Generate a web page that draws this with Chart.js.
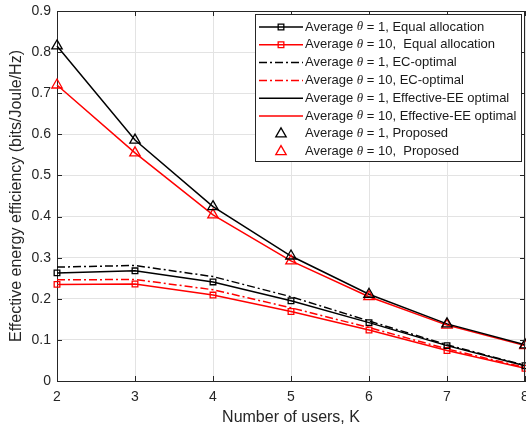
<!DOCTYPE html>
<html>
<head>
<meta charset="utf-8">
<script src="https://cdn.jsdelivr.net/npm/chart.js@4/dist/chart.umd.min.js"></script>
<style>
  html, body { margin: 0; padding: 0; background: #fff; }
  #wrap { width: 526px; height: 428px; }
</style>
</head>
<body>
<div id="wrap"><canvas id="eeChart" width="526" height="428"></canvas></div>
<script>
// Effective energy efficiency vs. number of users K
const kUsers = [2, 3, 4, 5, 6, 7, 8];
const equalT1 = [0.263, 0.268, 0.241, 0.195, 0.142, 0.086, 0.037];
const equalT10 = [0.235, 0.236, 0.209, 0.169, 0.124, 0.074, 0.031];
const ecT1 = [0.277, 0.281, 0.254, 0.205, 0.146, 0.088, 0.038];
const ecT10 = [0.246, 0.247, 0.222, 0.178, 0.130, 0.078, 0.033];
const eeT1 = [0.815, 0.586, 0.424, 0.304, 0.211, 0.139, 0.088];
const eeT10 = [0.720, 0.555, 0.404, 0.292, 0.205, 0.136, 0.086];
const propT1 = [0.815, 0.586, 0.424, 0.304, 0.211, 0.139, 0.088];
const propT10 = [0.720, 0.555, 0.404, 0.292, 0.205, 0.136, 0.086];

const yTicks = [0, 0.1, 0.2, 0.3, 0.4, 0.5, 0.6, 0.7, 0.8, 0.9];

const AXIS_COLOR = '#262626';
const GRID_COLOR = '#e3e3e3';
const FONT = "'Liberation Sans', Arial, Helvetica, sans-serif";
const DASH_DOT = [8, 3, 2, 3];

function pts(ys) {
    return ys.map((y, i) => ({ x: kUsers[i], y: y }));
}

function series(label, ys, color, opts) {
    return Object.assign({
        label: label,
        data: pts(ys),
        borderColor: color,
        backgroundColor: 'rgba(0,0,0,0)',
        pointBorderColor: color,
        pointBackgroundColor: 'rgba(0,0,0,0)',
        borderWidth: 1.5,
        pointBorderWidth: 1.3,
        pointRadius: 0,
        pointHoverRadius: 0,
        tension: 0,
        clip: false,
        fill: false
    }, opts);
}

const datasets = [
    series('Average θ = 1, Equal allocation', equalT1, '#000000', { pointStyle: 'rect', pointRadius: 4, order: 5 }),
    series('Average θ = 10,  Equal allocation', equalT10, '#ff0000', { pointStyle: 'rect', pointRadius: 4, order: 5 }),
    series('Average θ = 1, EC-optimal', ecT1, '#000000', { borderDash: DASH_DOT, order: 6 }),
    series('Average θ = 10, EC-optimal', ecT10, '#ff0000', { borderDash: DASH_DOT, order: 6 }),
    series('Average θ = 1, Effective-EE optimal', eeT1, '#000000', { order: 4 }),
    series('Average θ = 10, Effective-EE optimal', eeT10, '#ff0000', { order: 4 }),
    series('Average θ = 1, Proposed', propT1, '#000000', { showLine: false, pointStyle: 'triangle', pointRadius: 6, order: 1 }),
    series('Average θ = 10,  Proposed', propT10, '#ff0000', { showLine: false, pointStyle: 'triangle', pointRadius: 6, order: 1 })
];

// Box around the plot area plus inward tick marks
const frameBox = {
    id: 'frameBox',
    afterDatasetsDraw(chart) {
        const { ctx, chartArea: a, scales } = chart;
        ctx.save();
        ctx.strokeStyle = AXIS_COLOR;
        ctx.lineWidth = 1;
        ctx.beginPath();
        ctx.moveTo(a.left, a.top + 0.5);
        ctx.lineTo(a.right, a.top + 0.5);
        ctx.moveTo(a.right - 0.5, a.top);
        ctx.lineTo(a.right - 0.5, a.bottom);
        const len = 5;
        kUsers.forEach(k => {
            const x = Math.round(scales.x.getPixelForValue(k)) + 0.5;
            ctx.moveTo(x, a.bottom);
            ctx.lineTo(x, a.bottom - len);
            ctx.moveTo(x, a.top);
            ctx.lineTo(x, a.top + len);
        });
        yTicks.forEach(v => {
            const y = Math.round(scales.y.getPixelForValue(v)) + 0.5;
            ctx.moveTo(a.left, y);
            ctx.lineTo(a.left + len, y);
            ctx.moveTo(a.right, y);
            ctx.lineTo(a.right - len, y);
        });
        ctx.stroke();
        ctx.restore();
    }
};

// Legend box drawn inside the plot, with the θ set in italics
const innerLegend = {
    id: 'innerLegend',
    afterDraw(chart) {
        const ctx = chart.ctx;
        const box = { left: 255.5, top: 14.5, right: 521.5, bottom: 161.5 };
        const rowTop = 27;
        const rowGap = 17.8;
        const sx0 = 259, sx1 = 303, tx = 305;
        ctx.save();
        ctx.fillStyle = '#ffffff';
        ctx.fillRect(box.left, box.top, box.right - box.left, box.bottom - box.top);
        ctx.strokeStyle = AXIS_COLOR;
        ctx.lineWidth = 1;
        ctx.strokeRect(box.left, box.top, box.right - box.left, box.bottom - box.top);

        chart.data.datasets.forEach((ds, i) => {
            const y = rowTop + i * rowGap;
            const cx = (sx0 + sx1) / 2;
            ctx.save();
            if (ds.showLine !== false) {
                ctx.strokeStyle = ds.borderColor;
                ctx.lineWidth = ds.borderWidth;
                ctx.setLineDash(ds.borderDash || []);
                ctx.beginPath();
                ctx.moveTo(sx0, y);
                ctx.lineTo(sx1, y);
                ctx.stroke();
            }
            ctx.setLineDash([]);
            if (ds.pointRadius > 0) {
                ctx.fillStyle = 'rgba(0,0,0,0)';
                ctx.strokeStyle = ds.pointBorderColor;
                ctx.lineWidth = ds.pointBorderWidth;
                Chart.helpers.drawPoint(ctx, {
                    pointStyle: ds.pointStyle,
                    radius: ds.pointRadius,
                    borderWidth: ds.pointBorderWidth,
                    rotation: 0
                }, cx, y);
            }
            ctx.restore();

            const parts = ds.label.split('θ');
            ctx.fillStyle = '#1a1a1a';
            ctx.textBaseline = 'middle';
            ctx.font = '13px ' + FONT;
            let x = tx;
            ctx.fillText(parts[0], x, y);
            x += ctx.measureText(parts[0]).width;
            ctx.font = "italic 13px 'Liberation Serif', 'DejaVu Serif', serif";
            ctx.fillText('θ', x, y);
            x += ctx.measureText('θ').width;
            ctx.font = '13px ' + FONT;
            ctx.fillText(parts[1], x, y);
        });
        ctx.restore();
    }
};

new Chart(document.getElementById('eeChart'), {
    type: 'line',
    data: { datasets: datasets },
    options: {
        responsive: false,
        animation: false,
        events: [],
        layout: { autoPadding: false, padding: { left: 0, top: 11, right: 1, bottom: 0 } },
        plugins: {
            legend: { display: false },
            tooltip: { enabled: false }
        },
        scales: {
            x: {
                type: 'linear',
                min: 2,
                max: 8,
                afterFit: (scale) => {
                    scale.height = 47;
                    scale.paddingLeft = 0;
                    scale.paddingRight = 0;
                },
                afterBuildTicks: (scale) => {
                    scale.ticks = kUsers.map(v => ({ value: v }));
                },
                grid: { color: GRID_COLOR, drawTicks: false },
                border: { color: AXIS_COLOR, width: 1 },
                ticks: {
                    color: AXIS_COLOR,
                    font: { family: FONT, size: 14 },
                    padding: 8,
                    maxRotation: 0
                },
                title: {
                    display: true,
                    text: 'Number of users, K',
                    color: AXIS_COLOR,
                    font: { family: FONT, size: 16 },
                    padding: { top: 0, bottom: 1 }
                }
            },
            y: {
                min: 0,
                max: 0.9,
                afterFit: (scale) => {
                    scale.width = 57;
                    scale.paddingTop = 0;
                    scale.paddingBottom = 0;
                },
                afterBuildTicks: (scale) => {
                    scale.ticks = yTicks.map(v => ({ value: v }));
                },
                grid: { color: GRID_COLOR, drawTicks: false },
                border: { color: AXIS_COLOR, width: 1 },
                ticks: {
                    color: AXIS_COLOR,
                    font: { family: FONT, size: 14 },
                    padding: 6,
                    callback: (v) => (v === 0 ? '0' : v.toFixed(1))
                },
                title: {
                    display: true,
                    text: 'Effective energy efficiency (bits/Joule/Hz)',
                    color: AXIS_COLOR,
                    font: { family: FONT, size: 16 },
                    padding: { top: 7, bottom: 0 }
                }
            }
        }
    },
    plugins: [frameBox, innerLegend]
});
</script>
</body>
</html>
